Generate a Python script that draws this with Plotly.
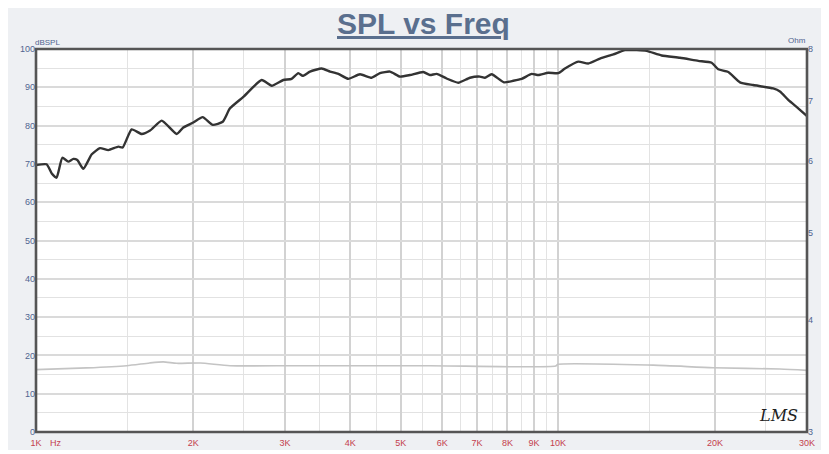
import math
import plotly.graph_objects as go

# ---- data ----
spl_freq_hz = [1000, 1048, 1072, 1095, 1123, 1153, 1179, 1200, 1232, 1279,
               1326, 1376, 1438, 1466, 1525, 1594, 1654, 1741, 1860, 1915,
               2001, 2086, 2181, 2279, 2353, 2496, 2706, 2829, 2977, 3088,
               3180, 3243, 3349, 3526, 3659, 3795, 3966, 4175, 4397, 4560,
               4766, 4982, 5206, 5521, 5685, 5855, 6119, 6442, 6783, 7088,
               7246, 7464, 7880, 8211, 8521, 8906, 9169, 9581, 10014, 10314,
               10937, 11429, 12037, 12766, 13440, 14153, 14788, 15797, 17128, 18567,
               19699, 20283, 21198, 22323, 23665, 25847, 26627, 27620, 28862, 30000]
spl_db = [69.7, 69.9, 67.5, 66.4, 71.6, 70.6, 71.3, 71.0, 68.7, 72.5,
          74.1, 73.6, 74.5, 74.3, 79.0, 77.8, 78.7, 81.3, 77.8, 79.5,
          80.8, 82.2, 80.2, 81.0, 84.5, 87.5, 91.9, 90.4, 91.9, 92.2,
          93.7, 93.0, 94.1, 94.9, 94.1, 93.5, 92.2, 93.4, 92.5, 93.7,
          94.1, 92.8, 93.2, 94.0, 93.2, 93.5, 92.3, 91.2, 92.5, 92.8,
          92.5, 93.4, 91.3, 91.7, 92.2, 93.5, 93.2, 93.8, 93.7, 94.9,
          96.7, 96.2, 97.5, 98.6, 99.7, 99.7, 99.5, 98.3, 97.7, 96.9,
          96.4, 94.7, 94.0, 91.3, 90.6, 89.7, 88.9, 86.7, 84.5, 82.5]

imp_freq_hz = [1000, 1250, 1492, 1650, 1753, 1860, 2062, 2353, 3150, 5685, 9900,
               10000, 15230, 19840, 26630, 30000]
imp_ohm = [3.52, 3.535, 3.555, 3.58, 3.59, 3.577, 3.58, 3.555, 3.555, 3.555, 3.552,
           3.568, 3.56, 3.537, 3.525, 3.513]

x_tick_vals = [1000, 2000, 3000, 4000, 5000, 6000, 7000, 8000, 9000, 10000, 20000, 30000]
x_tick_text = ["1K", "2K", "3K", "4K", "5K", "6K", "7K", "8K", "9K", "10K", "20K", "30K"]
x_minor_vals = [1500, 2500, 3500, 4500, 5500, 6500, 7500, 8500, 9500, 15000, 25000]
y_tick_vals = [0, 10, 20, 30, 40, 50, 60, 70, 80, 90, 100]
y2_tick_vals = [3, 4, 5, 6, 7, 8]

# ---- figure ----
# The page body adds an 8px margin, so the figure is 8px smaller and shifted.
fig = go.Figure()
fig.add_trace(go.Scatter(x=imp_freq_hz, y=imp_ohm, yaxis="y2", mode="lines",
                         line=dict(color="#c4c4c4", width=1.6, shape="spline", smoothing=0.6),
                         hoverinfo="skip", showlegend=False))
fig.add_trace(go.Scatter(x=spl_freq_hz, y=spl_db, mode="lines",
                         line=dict(color="#333333", width=2.4, shape="spline", smoothing=0.5),
                         showlegend=False))

tick_blue = "#506490"
tick_red = "#c4404e"
PW, PH = 771, 383  # plot area size in px

fig.update_layout(
    width=821, height=446,
    margin=dict(l=28, r=22, t=41, b=22, autoexpand=False),
    paper_bgcolor="white",
    plot_bgcolor="white",
    font=dict(family="Liberation Sans, Arial, sans-serif"),
    xaxis=dict(type="log", range=[math.log10(1000), math.log10(30000)],
               tickmode="array", tickvals=x_tick_vals, ticktext=x_tick_text,
               tickfont=dict(size=9, color=tick_red), ticks="", ticklabelstandoff=4,
               showgrid=True, gridcolor="#d2d2d2", gridwidth=1.5,
               minor=dict(tickmode="array", tickvals=x_minor_vals, showgrid=True,
                          gridcolor="#e3e3e3", gridwidth=1.2, ticks=""),
               showline=False, zeroline=False),
    yaxis=dict(range=[0, 100], tickmode="array", tickvals=y_tick_vals,
               tickfont=dict(size=9, color=tick_blue), ticks="",
               showgrid=True, gridcolor="#dadada", gridwidth=1.5,
               minor=dict(dtick=5, showgrid=True, gridcolor="#e2e2e2", gridwidth=1.3, ticks=""),
               showline=False, zeroline=False),
    yaxis2=dict(type="log", range=[math.log10(3), math.log10(8)], overlaying="y", side="right",
                tickmode="array", tickvals=y2_tick_vals,
                tickfont=dict(size=9, color=tick_blue), ticks="",
                showgrid=False, zeroline=False, showline=False),
    shapes=[
        dict(type="rect", xref="paper", yref="paper", x0=-28/PW, x1=788/PW,
             y0=-18/PH, y1=424/PH, fillcolor="#eef0f3", line=dict(width=0), layer="below"),
        dict(type="rect", xref="paper", yref="paper", x0=0, x1=1, y0=0, y1=1,
             fillcolor="white", line=dict(width=0), layer="below"),
        dict(type="rect", xref="paper", yref="paper", x0=0, x1=1, y0=0, y1=1,
             line=dict(color="#555555", width=2.6), layer="above"),
    ],
    annotations=[
        dict(text="<b><u>SPL vs Freq</u></b>", xref="paper", yref="paper", x=0.502, y=(432-23)/PH,
             xanchor="center", yanchor="middle", showarrow=False,
             font=dict(size=30, color="#5a6f8e", family="Liberation Sans, Arial, sans-serif")),
        dict(text="dBSPL", xref="paper", yref="paper", x=-3/PW, y=(432-42)/PH,
             xanchor="left", yanchor="middle", showarrow=False,
             font=dict(size=8, color=tick_blue)),
        dict(text="Ohm", xref="paper", yref="paper", x=772/PW, y=(432-41)/PH,
             xanchor="right", yanchor="middle", showarrow=False,
             font=dict(size=8, color=tick_blue)),
        dict(text="Hz", xref="paper", yref="paper", x=20/PW, y=(432-443)/PH,
             xanchor="center", yanchor="middle", showarrow=False,
             font=dict(size=9, color=tick_red)),
        dict(text="<i>LMS</i>", xref="paper", yref="paper", x=(778-36)/PW, y=(432-415)/PH,
             xanchor="center", yanchor="middle", showarrow=False,
             font=dict(size=16, color="#222222", family="DejaVu Serif, serif")),
    ],
)

fig.write_html("out.html")
